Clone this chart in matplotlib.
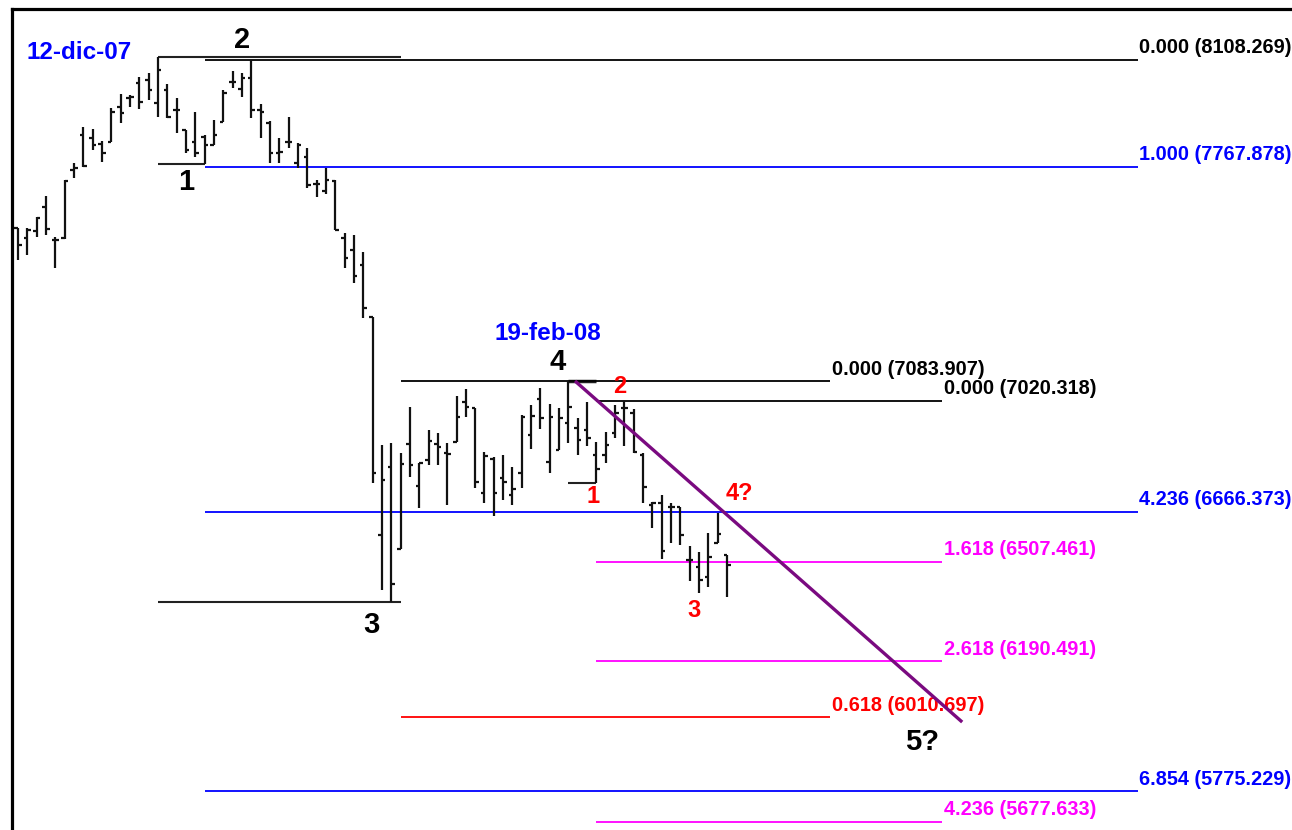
import matplotlib
matplotlib.use("Agg")
import matplotlib.pyplot as plt
import numpy as np

plt.rcParams['font.family'] = ['Liberation Sans', 'DejaVu Sans']

# ---- OHLC data (bar index = trading day) ----
opens = [7572, 7540, 7562, 7639, 7533, 7540, 7757, 7868, 7859, 7840,
         7846, 7958, 7986, 8034, 8044, 7970, 8012, 7948, 7884, 7846,
         7862, 7836, 7910, 8037, 8015, 8050, 7948, 7907, 7811, 7846,
         7779, 7798, 7712, 7690, 7722, 7540, 7502, 7454, 7288, 6592,
         6809, 6548, 6883, 6749, 6832, 6883, 6854, 6889, 7017, 6998,
         6726, 6835, 6774, 6720, 6790, 6911, 7026, 6825, 6863, 6950,
         6934, 6927, 6848, 6848, 6918, 6998, 6982, 6848, 6688, 6694,
         6682, 6682, 6513, 6490, 6458, 6567, 6528]
highs = [7572, 7572, 7607, 7674, 7543, 7725, 7779, 7894, 7888, 7849,
         7955, 7999, 7996, 8053, 8066, 8117, 8031, 7986, 7884, 7942,
         7868, 7916, 8012, 8073, 8066, 8108, 7967, 7913, 7859, 7926,
         7843, 7827, 7725, 7763, 7725, 7556, 7549, 7495, 7288, 6879,
         6886, 6854, 7001, 6822, 6927, 6918, 6886, 7036, 7058, 6998,
         6857, 6841, 6848, 6809, 6975, 7007, 7061, 7010, 6998, 7084,
         6966, 7017, 6889, 6921, 7007, 7020, 6994, 6854, 6698, 6720,
         6694, 6682, 6557, 6538, 6599, 6662, 6528]
lows = [7470, 7486, 7543, 7549, 7444, 7537, 7731, 7766, 7821, 7782,
        7846, 7907, 7958, 7951, 7980, 7926, 7923, 7875, 7811, 7798,
        7776, 7836, 7910, 8018, 7990, 7923, 7859, 7779, 7779, 7827,
        7763, 7699, 7671, 7680, 7565, 7444, 7396, 7285, 6758, 6417,
        6379, 6548, 6777, 6679, 6816, 6816, 6688, 6889, 6969, 6742,
        6694, 6653, 6704, 6688, 6742, 6867, 6930, 6790, 6863, 6886,
        6848, 6876, 6758, 6822, 6902, 6876, 6854, 6694, 6615, 6516,
        6567, 6560, 6446, 6407, 6426, 6567, 6395]
closes = [7518, 7565, 7604, 7568, 7533, 7722, 7763, 7770, 7836, 7811,
          7942, 7939, 7990, 7974, 8012, 8076, 7926, 7948, 7821, 7811,
          7836, 7868, 8002, 8037, 8050, 7948, 7942, 7811, 7814, 7846,
          7836, 7709, 7712, 7725, 7565, 7476, 7419, 7317, 6790, 6768,
          6436, 6819, 6816, 6822, 6892, 6873, 6851, 6969, 7001, 6761,
          6844, 6726, 6761, 6739, 6969, 6972, 6966, 6969, 6966, 7001,
          6895, 6902, 6803, 6879, 6982, 6998, 6857, 6746, 6694, 6541,
          6682, 6592, 6513, 6449, 6522, 6595, 6497]

# ---- Fibonacci levels: (label, price, start bar, end bar, colour) ----
fib_labels = ["0.000 (8108.269)", "1.000 (7767.878)", "4.236 (6666.373)",
              "6.854 (5775.229)", "0.000 (7083.907)", "0.618 (6010.697)",
              "0.000 (7020.318)", "1.618 (6507.461)", "2.618 (6190.491)",
              "4.236 (5677.633)"]
fib_prices = [8108.269, 7767.878, 6666.373, 5775.229, 7083.907, 6010.697,
              7020.318, 6507.461, 6190.491, 5677.633]
fib_start = [20, 20, 20, 20, 41, 41, 62, 62, 62, 62]
fib_end = [120, 120, 120, 120, 87, 87, 99, 99, 99, 99]
fib_colors = ["#000000", "#0000FF", "#0000FF", "#0000FF", "#000000", "#FF0000",
              "#000000", "#FF00FF", "#FF00FF", "#FF00FF"]

# ---- wave brackets (price, start bar, end bar) ----
bracket_prices = [8117, 7776, 6379, 6758]
bracket_start = [15, 15, 15, 59]
bracket_end = [41, 20, 41, 62]

# ---- trend line ----
trend_x = [59.7, 101.2]
trend_y = [7084, 5996]

fig = plt.figure(figsize=(12.92, 8.30), dpi=100)
fig.patch.set_facecolor("white")
ax = fig.add_axes([12 / 1292, 0, 1 - 12 / 1292, 821 / 830])
ax.set_xlim(-0.643, 136.55)
ax.set_ylim(5651.7, 8270.7)
ax.set_xticks([])
ax.set_yticks([])
for s in ["right", "bottom"]:
    ax.spines[s].set_visible(False)
for s in ["left", "top"]:
    ax.spines[s].set_linewidth(2.3)
    ax.spines[s].set_color("black")

x = np.arange(len(opens))
bar_c = "#111111"
ax.vlines(x, lows, highs, color=bar_c, lw=1.6, zorder=3)
ax.hlines(opens, x - 0.38, x, color=bar_c, lw=1.6, zorder=3)
ax.hlines(closes, x, x + 0.38, color=bar_c, lw=1.6, zorder=3)

for p, s, e in zip(bracket_prices, bracket_start, bracket_end):
    ax.hlines(p, s, e, color="#222222", lw=1.5, zorder=2)
ax.hlines(7084, 59, 62, color="#222222", lw=2.5, zorder=2)

for lab, p, s, e, c in zip(fib_labels, fib_prices, fib_start, fib_end, fib_colors):
    ax.hlines(p, s, e, color=c, lw=1.3, zorder=2)
    ax.text(e + 0.2, p + 8, lab, color=c, fontsize=14.3, fontweight="bold",
            ha="left", va="bottom")

ax.plot(trend_x, trend_y, color="#7A0A80", lw=2.4, zorder=4,
        solid_capstyle="butt")

# wave labels
big = dict(fontsize=21, fontweight="bold", color="black", ha="center", va="center")
ax.text(24.0, 8171, "2", **big)
ax.text(18.0, 7718, "1", **big)
ax.text(37.9, 6305, "3", **big)
ax.text(57.8, 7144, "4", **big)
ax.text(96.9, 5932, "5?", **big)

red = dict(fontsize=17, fontweight="bold", color="#FF0000", ha="center", va="center")
ax.text(64.5, 7068, "2", **red)
ax.text(61.6, 6714, "1", **red)
ax.text(77.3, 6726, "4?", **red)
ax.text(72.5, 6353, "3", **red)

blue = dict(fontsize=17.5, fontweight="bold", color="#0000FF", ha="center", va="center")
ax.text(6.6, 8133, "12-dic-07", **blue)
ax.text(56.8, 7237, "19-feb-08", **blue)

fig.savefig("out.png", dpi=100, facecolor="white")
